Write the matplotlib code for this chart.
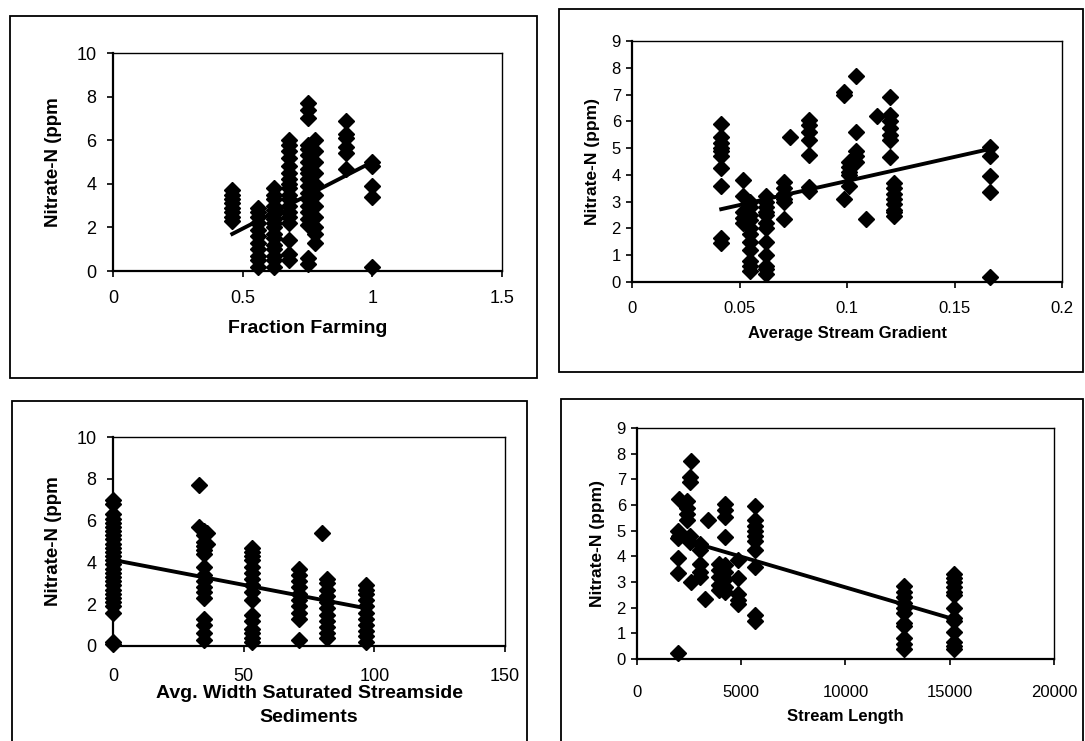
import numpy as np
import matplotlib
matplotlib.use("Agg")
import matplotlib.pyplot as plt
from matplotlib.patches import Rectangle

# ---- panel 1: fraction farming
farm_cols = [0.46, 0.56, 0.62, 0.68, 0.75, 0.78, 0.90, 1.00]
farm_vals = [
    [3.7, 3.5, 3.3, 3.1, 2.9, 2.7, 2.5, 2.3],
    [2.9, 2.7, 2.5, 2.2, 1.9, 1.6, 1.3, 1.0, 0.7, 0.5, 0.2],
    [3.8, 3.5, 3.3, 3.0, 2.8, 2.6, 2.4, 2.2, 2.0, 1.7, 1.5, 1.2, 1.0, 0.7, 0.5, 0.2],
    [6.0, 5.8, 5.5, 5.2, 4.8, 4.5, 4.2, 4.0, 3.8, 3.5, 3.3, 3.0, 2.7, 2.5, 2.2, 1.4, 0.8, 0.5],
    [7.7, 7.4, 7.0, 5.8, 5.6, 5.3, 5.0, 4.7, 4.5, 4.2, 3.9, 3.6, 3.3, 3.0, 2.7, 2.4, 2.1, 0.6, 0.3],
    [6.0, 5.5, 5.0, 4.5, 4.0, 3.5, 3.0, 2.5, 2.0, 1.7, 1.3],
    [6.9, 6.3, 6.1, 5.7, 5.4, 4.7],
    [5.0, 4.8, 3.9, 3.4, 0.2],
]
farm_trend_x = [0.46, 1.0]
farm_trend_y = [1.7, 5.0]

# ---- panel 2: average stream gradient
grad_cols = [0.0415, 0.0515, 0.055, 0.0624, 0.0709, 0.0734, 0.0825, 0.0985,
             0.101, 0.104, 0.109, 0.114, 0.120, 0.122, 0.1666]
grad_vals = [
    [5.9, 5.4, 5.2, 5.0, 4.9, 4.7, 4.25, 3.6, 1.65, 1.45],
    [3.8, 3.2, 2.6, 2.4, 2.2],
    [3.0, 2.8, 2.5, 2.3, 2.0, 1.8, 1.5, 1.2, 0.8, 0.6, 0.4],
    [3.2, 3.0, 2.8, 2.6, 2.5, 2.2, 2.0, 1.5, 1.0, 0.6, 0.5, 0.3],
    [3.75, 3.5, 3.3, 3.1, 3.0, 2.35],
    [5.4],
    [6.05, 5.85, 5.6, 5.3, 4.75, 3.55, 3.4],
    [7.1, 7.0, 3.1],
    [4.5, 4.3, 4.1, 4.0, 3.6],
    [7.7, 5.6, 4.9, 4.7, 4.5],
    [2.35],
    [6.2],
    [6.9, 6.25, 6.0, 5.75, 5.5, 5.3, 4.65],
    [3.7, 3.5, 3.3, 3.1, 2.9, 2.7, 2.6, 2.45],
    [5.05, 4.7, 3.95, 3.35, 0.2],
]
grad_trend_x = [0.0415, 0.1666]
grad_trend_y = [2.72, 4.97]

# ---- panel 3: avg width saturated streamside sediments
width_cols = [0, 33, 35, 36, 53, 71, 80, 82, 97]
width_vals = [
    [7.0, 6.8, 6.3, 6.1, 5.9, 5.7, 5.5, 5.3, 5.1, 4.9, 4.7, 4.5, 4.3, 4.1, 3.9, 3.7,
     3.5, 3.3, 3.1, 2.9, 2.7, 2.5, 2.3, 2.1, 1.9, 1.6, 0.2, 0.1],
    [7.7, 5.7],
    [5.5, 5.3, 5.0, 4.8, 4.6, 4.4, 3.8, 3.4, 3.1, 2.8, 2.6, 2.3, 1.3, 1.0, 0.6, 0.3],
    [5.4, 4.9],
    [4.7, 4.5, 4.3, 4.1, 3.8, 3.5, 3.2, 2.9, 2.6, 2.2, 1.5, 1.2, 0.8, 0.6, 0.4, 0.2],
    [3.7, 3.4, 3.1, 2.8, 2.5, 2.2, 1.9, 1.6, 1.3, 0.3],
    [5.4],
    [3.2, 3.0, 2.7, 2.4, 2.1, 1.8, 1.5, 1.2, 0.9, 0.6, 0.4],
    [2.9, 2.7, 2.5, 2.2, 1.9, 1.6, 1.3, 1.0, 0.7, 0.5, 0.2],
]
width_trend_x = [0, 97]
width_trend_y = [4.12, 1.8]

# ---- panel 4: stream length
length_cols = [1950, 2000, 2400, 2550, 2600, 3000, 3250, 3400, 3950, 4200,
               4850, 5650, 12800, 15200]
length_vals = [
    [5.0, 4.7, 3.95, 3.35, 0.22],
    [6.25, 4.8],
    [6.15, 5.9, 5.65, 5.4],
    [7.1, 6.9, 4.8, 4.55],
    [7.7, 3.0],
    [4.5, 4.25, 3.7, 3.4, 3.2],
    [2.35],
    [5.4],
    [3.7, 3.45, 3.2, 2.9, 2.7],
    [6.05, 5.8, 5.55, 4.75, 3.65, 3.4, 3.1, 2.8, 2.6],
    [3.85, 3.15, 2.55, 2.3, 2.15],
    [5.95, 5.4, 5.2, 5.0, 4.8, 4.6, 4.25, 3.6, 1.7, 1.5],
    [2.85, 2.6, 2.4, 2.2, 2.0, 1.8, 1.4, 1.3, 0.8, 0.6, 0.4],
    [3.3, 3.15, 3.0, 2.8, 2.6, 2.5, 2.0, 1.6, 1.5, 1.05, 0.65, 0.5, 0.4],
]
length_trend_x = [2000, 15200]
length_trend_y = [4.7, 1.55]

plt.rcParams['font.family'] = ['Liberation Sans', 'DejaVu Sans']
LABEL_FONT = ['Liberation Sans Narrow', 'Liberation Sans', 'DejaVu Sans']

W, H = 1085, 741
fig = plt.figure(figsize=(W / 100, H / 100), dpi=100)


def px_box(left, top, right, bottom):
    return [left / W, 1 - bottom / H, (right - left) / W, (bottom - top) / H]


# outer frames around each chart
for l, t, r, b in [(10, 16, 537, 378), (559, 9, 1083, 372),
                   (12, 401, 527, 760), (561, 399, 1083, 760)]:
    fig.add_artist(Rectangle((l / W, 1 - b / H), (r - l) / W, (b - t) / H,
                             transform=fig.transFigure, fill=False,
                             edgecolor='black', linewidth=1.3))


def scatter_panel(pos, cols, vals, tx, ty, xlim, xticks, ylim, yticks,
                  xlabel, ylabel, tick_fs, xlab_fs, ylab_fs, xlabpad, xpad,
                  ypad, ylabpad, ms, xticklabels=None):
    ax = fig.add_axes(px_box(*pos))
    xs = np.concatenate([[c] * len(v) for c, v in zip(cols, vals)])
    ys = np.concatenate(vals)
    ax.plot(xs, ys, linestyle='none', marker='D', markersize=ms,
            color='black', clip_on=False, zorder=3)
    ax.plot(tx, ty, color='black', linewidth=2.8, zorder=4)
    ax.set_xlim(*xlim)
    ax.set_ylim(*ylim)
    ax.set_xticks(xticks)
    if xticklabels is not None:
        ax.set_xticklabels(xticklabels)
    ax.set_yticks(yticks)
    ax.tick_params(direction='out', length=4, width=1.2, labelsize=tick_fs)
    ax.tick_params(axis='x', pad=xpad)
    ax.tick_params(axis='y', pad=ypad)
    for s in ['left', 'bottom']:
        ax.spines[s].set_linewidth(1.6)
    for s in ['top', 'right']:
        ax.spines[s].set_linewidth(1.0)
    ax.set_xlabel(xlabel, fontsize=xlab_fs, fontweight='bold',
                  family=LABEL_FONT, labelpad=xlabpad, linespacing=1.55)
    ax.set_ylabel(ylabel, fontsize=ylab_fs, fontweight='bold',
                  family=LABEL_FONT, labelpad=ylabpad)
    return ax


scatter_panel((113, 53, 502, 271), farm_cols, farm_vals, farm_trend_x, farm_trend_y,
              (0, 1.5), [0, 0.5, 1, 1.5], (0, 10), [0, 2, 4, 6, 8, 10],
              'Fraction Farming', 'Nitrate-N (ppm', 13, 14, 13.5, 9, 10, 8, 10, 8.5,
              ['0', '0.5', '1', '1.5'])

scatter_panel((632, 41, 1062, 282), grad_cols, grad_vals, grad_trend_x, grad_trend_y,
              (0, 0.2), [0, 0.05, 0.1, 0.15, 0.2], (0, 9), list(range(10)),
              'Average Stream Gradient', 'Nitrate-N (ppm)', 12, 12, 12.5, 7, 10, 4, 8,
              8, ['0', '0.05', '0.1', '0.15', '0.2'])

scatter_panel((113, 437, 505, 646), width_cols, width_vals, width_trend_x, width_trend_y,
              (0, 150), [0, 50, 100, 150], (0, 10), [0, 2, 4, 6, 8, 10],
              'Avg. Width Saturated Streamside\nSediments', 'Nitrate-N (ppm',
              13, 14, 13.5, 0, 12, 8, 10, 8.5)

scatter_panel((637, 428, 1054, 659), length_cols, length_vals, length_trend_x,
              length_trend_y, (0, 20000), [0, 5000, 10000, 15000, 20000],
              (0, 9), list(range(10)), 'Stream Length', 'Nitrate-N (ppm)',
              12, 12, 12.5, 6, 15, 4, 8, 8)

fig.savefig('out.png', dpi=100)
